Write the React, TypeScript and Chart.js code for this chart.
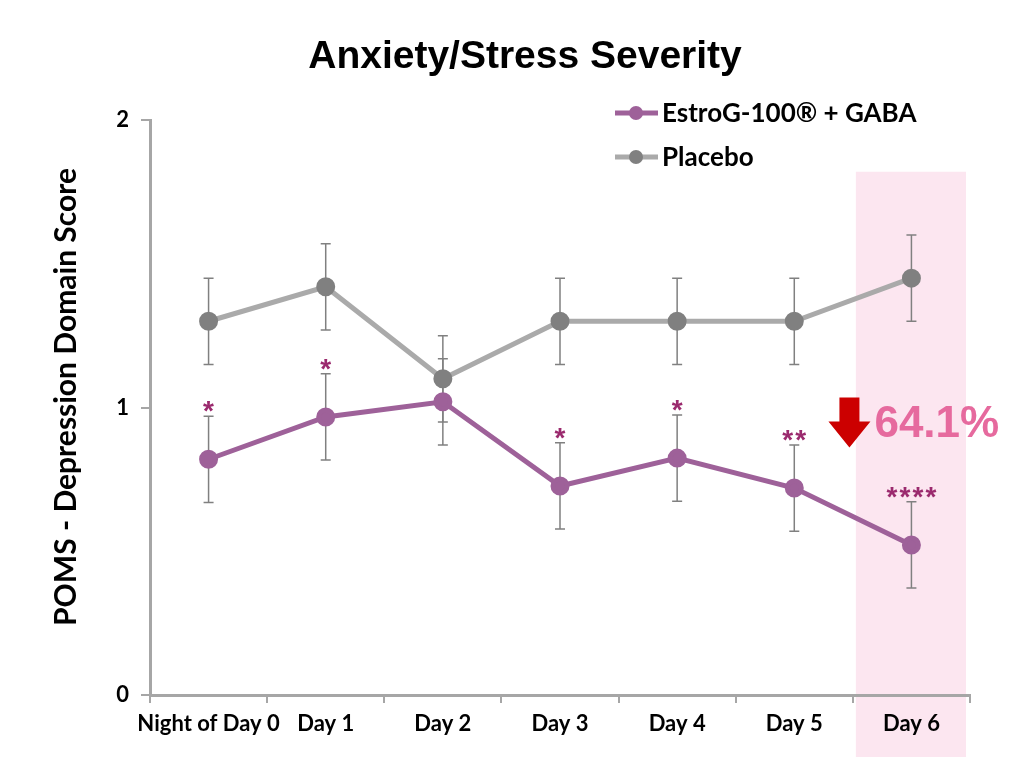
import { useEffect, useRef } from 'react';
import { Chart, registerables } from 'chart.js';

Chart.register(...registerables);

const categories = ['Night of Day 0', 'Day 1', 'Day 2', 'Day 3', 'Day 4', 'Day 5', 'Day 6'];
const estrogValues = [0.82, 0.967, 1.02, 0.727, 0.824, 0.72, 0.522];
const placeboValues = [1.3, 1.42, 1.1, 1.3, 1.3, 1.3, 1.45];
const estrogErrors = [0.15, 0.15, 0.15, 0.15, 0.15, 0.15, 0.15];
const placeboErrors = [0.15, 0.15, 0.15, 0.15, 0.15, 0.15, 0.15];
const significance = ['*', '*', '', '*', '*', '**', '****'];
const yTicks = [0, 1, 2];
const highlightIndex = 6;
const highlightTop = 1.82;
const reductionLabel = '64.1%';

const PURPLE = '#9e6199';
const GREY_LINE = '#aaaaaa';
const GREY_POINT = '#808080';
const AXIS = '#a6a6a6';
const SANS = 'Lato, "Open Sans", sans-serif';
const ARIAL = '"Liberation Sans", Arial, sans-serif';

const overlay = {
  id: 'overlay',
  beforeDraw(chart: any) {
    const { ctx, chartArea, scales } = chart;
    const x = scales.x;
    const y = scales.y;
    const half = (x.getPixelForValue(1) - x.getPixelForValue(0)) / 2;
    const cx = x.getPixelForValue(highlightIndex);
    ctx.save();
    ctx.fillStyle = '#fce6f0';
    const top = y.getPixelForValue(highlightTop);
    ctx.fillRect(cx - half + 3, top, half * 2 - 7, chartArea.bottom + 62 - top);
    ctx.restore();
  },
  beforeDatasetsDraw(chart: any) {
    const { ctx, scales } = chart;
    const errs = [estrogErrors, placeboErrors];
    ctx.save();
    ctx.strokeStyle = GREY_POINT;
    ctx.lineWidth = 1.5;
    chart.data.datasets.forEach((ds: any, di: number) => {
      ds.data.forEach((v: number, i: number) => {
        const px = scales.x.getPixelForValue(i);
        const t = scales.y.getPixelForValue(v + errs[di][i]);
        const b = scales.y.getPixelForValue(v - errs[di][i]);
        ctx.beginPath();
        ctx.moveTo(px, t);
        ctx.lineTo(px, b);
        ctx.moveTo(px - 5, t);
        ctx.lineTo(px + 5, t);
        ctx.moveTo(px - 5, b);
        ctx.lineTo(px + 5, b);
        ctx.stroke();
      });
    });
    ctx.restore();
  },
  afterDatasetsDraw(chart: any) {
    const { ctx, scales, chartArea } = chart;
    const x = scales.x;
    const y = scales.y;
    ctx.save();

    // significance stars above the EstroG error bars
    ctx.fillStyle = '#9b2a6e';
    ctx.font = 'bold 28px ' + ARIAL;
    ctx.textAlign = 'center';
    ctx.textBaseline = 'alphabetic';
    significance.forEach((s, i) => {
      if (!s) return;
      const px = x.getPixelForValue(i);
      const top = y.getPixelForValue(estrogValues[i] + estrogErrors[i]);
      const m = ctx.measureText('*');
      const base = top - 4 - m.actualBoundingBoxDescent;
      const step = 13;
      for (let k = 0; k < s.length; k++) {
        ctx.fillText('*', px + (k - (s.length - 1) / 2) * step, base);
      }
    });

    // red arrow + percentage
    const ax = x.getPixelForValue(highlightIndex) - 62;
    const ay = y.getPixelForValue(1.035);
    ctx.fillStyle = '#cc0000';
    ctx.beginPath();
    ctx.moveTo(ax - 10, ay);
    ctx.lineTo(ax + 10, ay);
    ctx.lineTo(ax + 10, ay + 24);
    ctx.lineTo(ax + 21, ay + 24);
    ctx.lineTo(ax, ay + 50);
    ctx.lineTo(ax - 21, ay + 24);
    ctx.lineTo(ax - 10, ay + 24);
    ctx.closePath();
    ctx.fill();

    ctx.fillStyle = '#e66a9e';
    ctx.font = 'bold 44px ' + ARIAL;
    ctx.textAlign = 'left';
    ctx.textBaseline = 'alphabetic';
    ctx.fillText(reductionLabel, ax + 25, ay + 40);

    // legend
    const lx = chartArea.right - 355;
    chart.data.datasets.forEach((ds: any, di: number) => {
      const ly = 113 + di * 44;
      ctx.strokeStyle = ds.borderColor;
      ctx.lineWidth = 5;
      ctx.beginPath();
      ctx.moveTo(lx, ly);
      ctx.lineTo(lx + 43, ly);
      ctx.stroke();
      ctx.fillStyle = ds.pointBackgroundColor;
      ctx.beginPath();
      ctx.arc(lx + 21, ly, 7, 0, Math.PI * 2);
      ctx.fill();
      ctx.fillStyle = '#000';
      ctx.font = 'bold 26px ' + SANS;
      ctx.textAlign = 'left';
      ctx.textBaseline = 'middle';
      ctx.fillText(ds.label, lx + 47, ly + 1);
    });

    // title
    ctx.fillStyle = '#000';
    ctx.font = 'bold 39px ' + ARIAL;
    ctx.textAlign = 'center';
    ctx.textBaseline = 'middle';
    ctx.fillText('Anxiety/Stress Severity', 525, 57);

    // y-axis title
    ctx.translate(66, 397);
    ctx.rotate(-Math.PI / 2);
    ctx.font = 'bold 30px ' + SANS;
    ctx.fillText('POMS - Depression Domain Score', 0, 0);
    ctx.restore();
  },
};

export default function App() {
  const canvasRef = useRef<HTMLCanvasElement>(null);
  const chartRef = useRef<Chart | null>(null);

  useEffect(() => {
    document.body.style.margin = '0';
    if (!canvasRef.current) return;
    const ctx = canvasRef.current.getContext('2d');
    if (!ctx) return;
    if (chartRef.current) chartRef.current.destroy();

    chartRef.current = new Chart(ctx, {
      type: 'line',
      data: {
        labels: categories,
        datasets: [
          {
            label: 'EstroG-100® + GABA',
            data: estrogValues,
            borderColor: PURPLE,
            backgroundColor: PURPLE,
            pointBackgroundColor: PURPLE,
            pointBorderColor: PURPLE,
            borderWidth: 5,
            pointRadius: 7,
            tension: 0,
          },
          {
            label: 'Placebo',
            data: placeboValues,
            borderColor: GREY_LINE,
            backgroundColor: GREY_POINT,
            pointBackgroundColor: GREY_POINT,
            pointBorderColor: GREY_POINT,
            borderWidth: 5,
            pointRadius: 7,
            tension: 0,
          },
        ],
      },
      options: {
        responsive: true,
        maintainAspectRatio: false,
        animation: false,
        layout: { padding: { top: 120, right: 54, left: 0, bottom: 0 } },
        plugins: {
          legend: { display: false },
          title: { display: false },
          tooltip: { enabled: false },
        },
        scales: {
          x: {
            offset: true,
            afterFit: (s: any) => { s.height = 78; },
            grid: { offset: true, drawOnChartArea: false, drawTicks: true, tickLength: 8, color: AXIS, lineWidth: 2 },
            border: { display: true, color: AXIS, width: 3 },
            ticks: { color: '#000', padding: 8, maxRotation: 0, autoSkip: false, font: { family: SANS, weight: 'bold', size: 22 } },
          },
          y: {
            min: yTicks[0],
            max: yTicks[yTicks.length - 1],
            afterFit: (s: any) => { s.width = 150; },
            afterBuildTicks: (s: any) => { s.ticks = yTicks.map(v => ({ value: v })); },
            grid: { drawOnChartArea: false, drawTicks: true, tickLength: 9, color: AXIS, lineWidth: 2 },
            border: { display: true, color: AXIS, width: 3 },
            ticks: { color: '#000', padding: 12, font: { family: SANS, weight: 'bold', size: 22 } },
          },
        },
      },
      plugins: [overlay],
    });

    return () => {
      if (chartRef.current) {
        chartRef.current.destroy();
        chartRef.current = null;
      }
    };
  }, []);

  return (
    <div style={{ position: 'fixed', left: 0, top: 0, width: 1024, height: 773, background: '#fff' }}>
      <canvas ref={canvasRef} />
    </div>
  );
}
